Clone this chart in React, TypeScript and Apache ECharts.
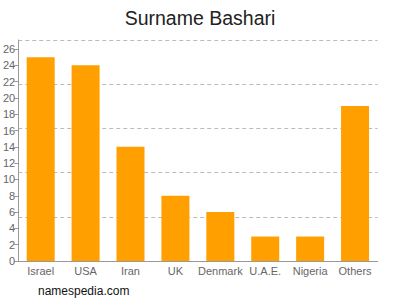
import React, { useEffect, useRef } from "react";
import * as echarts from "echarts";

const categories = ["Israel", "USA", "Iran", "UK", "Denmark", "U.A.E.", "Nigeria", "Others"];
const counts = [25, 24, 14, 8, 6, 3, 3, 19];
const yMax = 27.1;

export default function App() {
  const ref = useRef<HTMLDivElement>(null);
  useEffect(() => {
    const chart = echarts.init(ref.current!, null, { renderer: "svg" });
    chart.setOption({
      animation: false,
      title: {
        text: "Surname Bashari",
        left: "center",
        top: 3,
        textStyle: { fontFamily: "Liberation Sans, Arial", fontSize: 19.5, fontWeight: "normal", color: "#222" },
      },
      graphic: [
        {
          type: "text",
          left: 38,
          top: 285,
          style: { text: "namespedia.com", fontFamily: "Liberation Sans, Arial", fontSize: 12, fill: "#111" },
        },
      ],
      grid: { left: 17.5, right: 22.5, top: 40, bottom: 39, containLabel: false },
      xAxis: {
        type: "category",
        data: categories,
        axisLine: { lineStyle: { color: "#999" } },
        axisTick: { alignWithLabel: true, lineStyle: { color: "#999" }, length: 4 },
        axisLabel: { color: "#666", fontFamily: "Liberation Sans, Arial", fontSize: 11, margin: 4, interval: 0 },
      },
      yAxis: [
        {
          type: "value",
          min: 0,
          max: yMax,
          interval: 2,
          axisLine: { show: true, lineStyle: { color: "#999" } },
          axisTick: { show: true, length: 4, lineStyle: { color: "#999" } },
          axisLabel: { color: "#666", fontFamily: "Liberation Sans, Arial", fontSize: 11, margin: 3, showMaxLabel: false },
          splitLine: { show: false },
        },
        {
          type: "value",
          min: 0,
          max: 5,
          interval: 1,
          position: "left",
          axisLine: { show: false },
          axisTick: { show: false },
          axisLabel: { show: false },
          splitLine: { show: true, lineStyle: { color: "#bbb", type: [4, 3] } },
        },
      ],
      series: [
        {
          type: "bar",
          data: counts,
          barWidth: 28,
          yAxisIndex: 0,
          itemStyle: { color: "#FFA000" },
        },
      ],
    });
    return () => chart.dispose();
  }, []);
  return <div ref={ref} style={{ position: "absolute", left: 0, top: 0, width: 400, height: 300 }} />;
}
